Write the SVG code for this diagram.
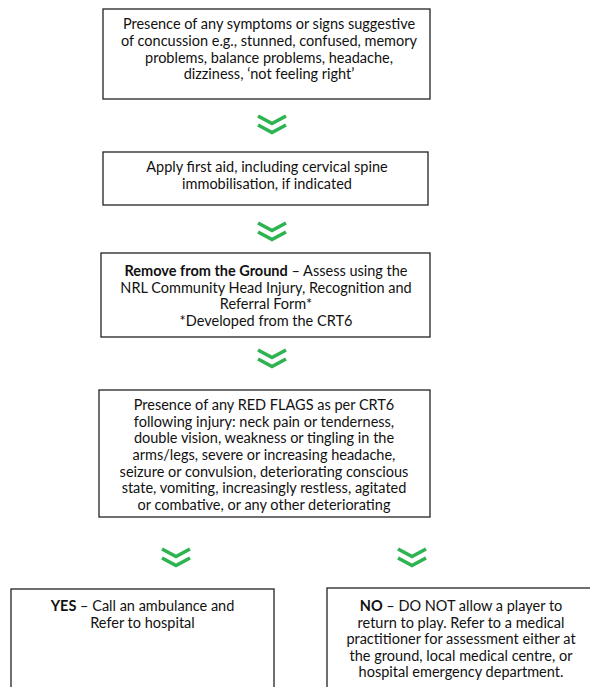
<svg xmlns="http://www.w3.org/2000/svg" width="590" height="687" viewBox="0 0 590 687">
<defs>
<style>
.box{fill:#fff;stroke:#222;stroke-width:1.3}
.t{font-family:Lato,"Liberation Sans",sans-serif;font-size:14.5px;fill:#111;text-anchor:middle}
.b{font-weight:bold}
.chev{fill:none;stroke:#2db34f;stroke-width:3.6}
</style>
</defs>
<rect width="590" height="687" fill="#fff"/>
<g id="n1">
<rect class="box" x="103" y="9" width="327" height="90"/>
<text class="t"><tspan x="269" y="29">Presence of any symptoms or signs suggestive</tspan><tspan x="269" y="46">of concussion e.g., stunned, confused, memory</tspan><tspan x="269" y="63">problems, balance problems, headache,</tspan><tspan x="269" y="79">dizziness, ‘not feeling right’</tspan></text>
</g>
<g id="n2">
<rect class="box" x="103" y="152" width="325" height="53"/>
<text class="t"><tspan x="267" y="172">Apply first aid, including cervical spine</tspan><tspan x="267" y="189">immobilisation, if indicated</tspan></text>
</g>
<g id="n3">
<rect class="box" x="101" y="253" width="329" height="84"/>
<text class="t"><tspan x="266" y="276"><tspan class="b">Remove from the Ground</tspan> – Assess using the</tspan><tspan x="266" y="293">NRL Community Head Injury, Recognition and</tspan><tspan x="266" y="309">Referral Form*</tspan><tspan x="266" y="326">*Developed from the CRT6</tspan></text>
</g>
<g id="n4">
<rect class="box" x="99" y="390" width="331" height="127"/>
<text class="t"><tspan x="264" y="410">Presence of any RED FLAGS as per CRT6</tspan><tspan x="264" y="427">following injury: neck pain or tenderness,</tspan><tspan x="264" y="443">double vision, weakness or tingling in the</tspan><tspan x="264" y="460">arms/legs, severe or increasing headache,</tspan><tspan x="264" y="477">seizure or convulsion, deteriorating conscious</tspan><tspan x="264" y="493">state, vomiting, increasingly restless, agitated</tspan><tspan x="264" y="510">or combative, or any other deteriorating</tspan></text>
</g>
<g id="n5">
<rect class="box" x="11" y="589" width="263" height="110"/>
<text class="t"><tspan x="142.5" y="611"><tspan class="b">YES</tspan> – Call an ambulance and</tspan><tspan x="142.5" y="628">Refer to hospital</tspan></text>
</g>
<g id="n6">
<rect class="box" x="327" y="588" width="280" height="110"/>
<text class="t"><tspan x="461" y="611"><tspan class="b">NO</tspan> – DO NOT allow a player to</tspan><tspan x="461" y="628">return to play. Refer to a medical</tspan><tspan x="461" y="644">practitioner for assessment either at</tspan><tspan x="461" y="661">the ground, local medical centre, or</tspan><tspan x="461" y="677">hospital emergency department.</tspan></text>
</g>
<g id="connectors">
<path class="chev" d="M258,116 L272,123.5 L286,116 M258,125 L272,132.5 L286,125"/>
<path class="chev" d="M258,223 L272,230.5 L286,223 M258,232 L272,239.5 L286,232"/>
<path class="chev" d="M258,350 L272,357.5 L286,350 M258,359 L272,366.5 L286,359"/>
<path class="chev" d="M162,549 L176,556.5 L190,549 M162,558 L176,565.5 L190,558"/>
<path class="chev" d="M398,549 L412,556.5 L426,549 M398,558 L412,565.5 L426,558"/>
</g>
</svg>
